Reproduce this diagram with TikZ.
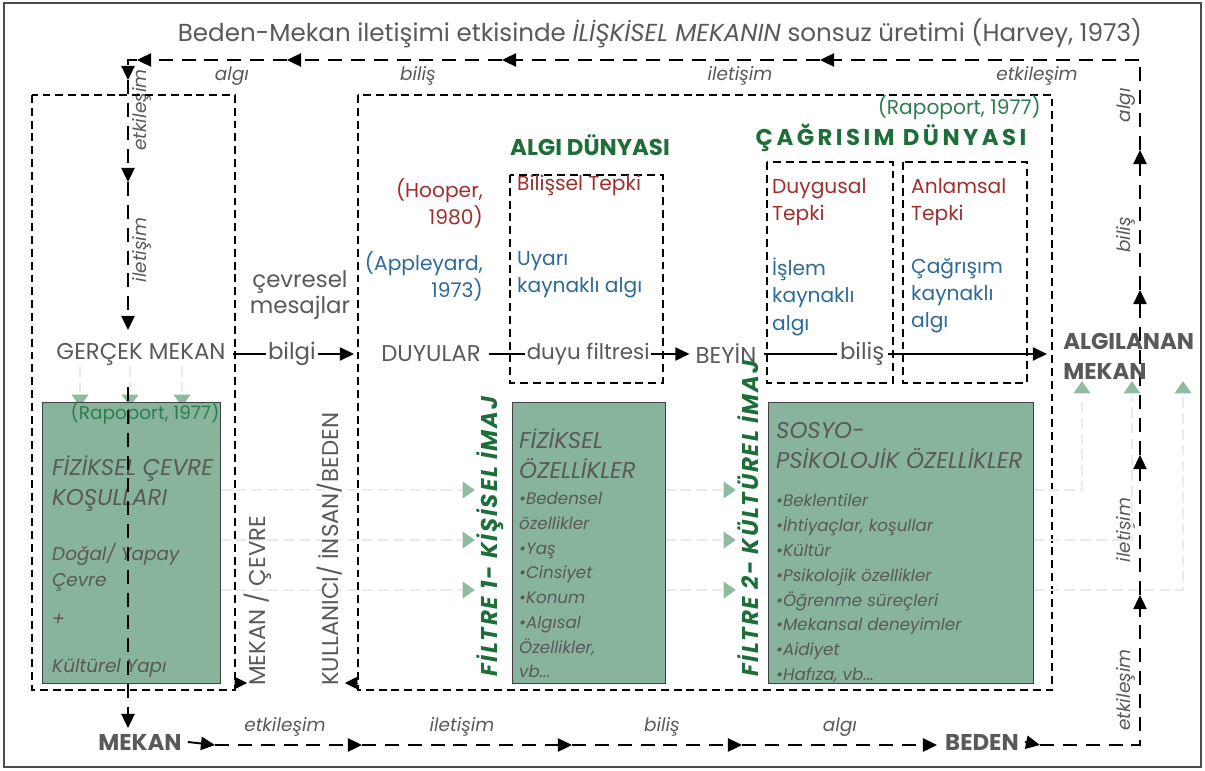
\documentclass[tikz,border=0pt]{standalone}
\usepackage{fontspec}
\setmainfont{Poppins}
\usetikzlibrary{positioning, arrows.meta, calc, shapes.geometric}

\definecolor{txtgray}{HTML}{595959}
\definecolor{dgreen}{HTML}{1E6E3A}
\definecolor{rapgreen}{HTML}{2E7D4E}
\definecolor{dred}{HTML}{9E2F2C}
\definecolor{dblue}{HTML}{2D6A98}
\definecolor{boxgreen}{HTML}{88B49B}
\definecolor{trigreen}{HTML}{8FBCA0}
\definecolor{faint}{HTML}{EAEAEA}

\newcommand\fsmall{\fontsize{9.5}{14.1}\selectfont}
\newcommand\fmid{\fontsize{10.5}{15}\selectfont}
\newcommand\fref{\fontsize{11.5}{15.5}\selectfont}
\newcommand\fbig{\fontsize{13}{17}\selectfont}
\newcommand\fflow{\fontsize{13}{14.8}\selectfont}

\tikzset{
  loopline/.style={line width=1.1pt, dash pattern=on 8pt off 5pt},
  looparrow/.style={loopline, -{Triangle[length=8pt,width=7.5pt]}},
  boxline/.style={line width=0.8pt, dash pattern=on 4.5pt off 2.8pt},
  flow/.style={line width=0.8pt, -{Triangle[length=8pt,width=7.5pt]}},
  greenbox/.style={draw=black!75, line width=0.8pt, fill=boxgreen, anchor=north west, inner sep=0pt},
  faintline/.style={faint, line width=0.6pt, dash pattern=on 6pt off 3pt},
  tri/.style={fill=trigreen, draw=none, isosceles triangle, isosceles triangle apex angle=70, inner sep=0pt, minimum width=8pt, minimum height=7pt}
}

\begin{document}
\begin{tikzpicture}[x=0.02cm, y=-0.02cm, every node/.style={text=txtgray, font=\fmid}]
\useasboundingbox (0,0) rectangle (1205,771);
\draw[black!70, line width=1pt] (4,3) rectangle (1201,767);

% title
\node (title) at (660,33) {\fontsize{14}{17}\selectfont Beden-Mekan iletişimi etkisinde \textit{İLİŞKİSEL MEKANIN} sonsuz üretimi (Harvey, 1973)};

% outer loop
\coordinate (tr) at (1140,60);
\coordinate (tl) at (128,60);
\coordinate (br) at (1140,745);
\coordinate (t1) at (820,60);
\coordinate (t2) at (502,60);
\coordinate (t3) at (287,60);
\coordinate (t4) at (137,60);
\coordinate (l1) at (128,80);
\coordinate (l2) at (128,182);
\coordinate (l3) at (128,330);
\coordinate (l4) at (128,387);
\coordinate (l5) at (128,728);
\coordinate (b0) at (215,745);
\coordinate (b1) at (362,745);
\coordinate (b2) at (572,745);
\coordinate (b3) at (742,745);
\coordinate (b4) at (937,745);
\coordinate (b5) at (1040,745);
\coordinate (r1) at (1140,595);
\coordinate (r2) at (1140,455);
\coordinate (r3) at (1140,290);
\coordinate (r4) at (1140,150);

\node[font=\fbig\bfseries] (mekan) at (140,742) {MEKAN};
\node[font=\fbig\bfseries] (beden) at (982,742) {BEDEN};

\draw[looparrow] (r4) -- (tr) -- (t1);
\draw[looparrow] (t1) -- (t2);
\draw[looparrow] (t2) -- (t3);
\draw[looparrow] (t3) -- (t4);
\draw[looparrow] (t4) -- (tl) -- (l1);
\draw[looparrow] (l1) -- (l2);
\draw[looparrow] (l2) -- (l3);
\draw[looparrow] (l4) -- (l5);
\draw[looparrow] (mekan.east) -- (b0);
\draw[looparrow] (b0) -- (b1);
\draw[looparrow] (b1) -- (b2);
\draw[looparrow] (b2) -- (b3);
\draw[looparrow] (b3) -- (b4);
\draw[looparrow] (beden.east) -- (b5);
\draw[looparrow] (b5) -- (br) -- (r1);
\draw[looparrow] (r1) -- (r2);
\draw[looparrow] (r2) -- (r3);
\draw[looparrow] (r3) -- (r4);

% loop labels
\node[font=\fmid\itshape] at (232,76) {algı};
\node[font=\fmid\itshape] at (418,76) {biliş};
\node[font=\fmid\itshape] at (740,76) {iletişim};
\node[font=\fmid\itshape] at (1037,76) {etkileşim};
\node[font=\fmid\itshape] at (285,727) {etkileşim};
\node[font=\fmid\itshape] at (462,727) {iletişim};
\node[font=\fmid\itshape] at (662,727) {biliş};
\node[font=\fmid\itshape] at (840,727) {algı};
\node[font=\fmid\itshape, rotate=90] at (142,110) {etkileşim};
\node[font=\fmid\itshape, rotate=90] at (142,250) {iletişim};
\node[font=\fmid\itshape, rotate=90] at (1126,105) {algı};
\node[font=\fmid\itshape, rotate=90] at (1126,235) {biliş};
\node[font=\fmid\itshape, rotate=90] at (1126,530) {iletişim};
\node[font=\fmid\itshape, rotate=90] at (1126,690) {etkileşim};

% dashed frames
\draw[boxline] (32,95) rectangle (235,690);
\draw[boxline] (358,95) rectangle (1052,690);
\draw[boxline] (510,175) rectangle (663,383);
\draw[boxline] (767,162) rectangle (893,383);
\draw[boxline] (903,162) rectangle (1027,383);
\coordinate (mc) at (247,683);
\coordinate (kb) at (345,683);
\draw[-{Triangle[length=7pt,width=7pt]}] (235,683) -- (mc);
\draw[-{Triangle[length=7pt,width=7pt]}] (358,683) -- (kb);

% faint guide lines and small triangles
\foreach \x in {80,130,182} {
  \draw[faintline] (\x,366) -- (\x,392);
  \node[tri, shape border rotate=270] at (\x,399) {};
}
\foreach \y/\x in {490/1082,540/1132,590/1183} {
  \draw[faintline] (220,\y) -- (462,\y);
  \draw[faintline] (665,\y) -- (722,\y);
  \draw[faintline] (1033,\y) -- (\x,\y) -- (\x,396);
  \node[tri] at (467,\y) {};
  \node[tri] at (728,\y) {};
  \node[tri, shape border rotate=90] at (\x,389) {};
}

% green boxes
\node[greenbox, minimum width=178*0.02cm, minimum height=281*0.02cm] (cevre) at (42,402) {};
\node[greenbox, minimum width=153*0.02cm, minimum height=281*0.02cm] (fizik) at (512,402) {};
\node[greenbox, minimum width=265*0.02cm, minimum height=281*0.02cm] (sosyo) at (768,402) {};

\node[font=\fbig\itshape, anchor=north west, align=left] (cevretxt) at (46,450) {FİZİKSEL ÇEVRE\\KOŞULLARI};
\node[font=\fmid\itshape, anchor=north west, align=left] at (46,537) {Doğal/ Yapay\\Çevre};
\node[font=\fmid\itshape, anchor=west] at (46,620) {+};
\node[font=\fmid\itshape, anchor=west] at (46,668) {Kültürel Yapı};
\node[text=rapgreen] at (145,413) {(Rapoport, 1977)};

\draw[loopline] (l4) -- (128,690);

% main flow
\node[font=\fflow] (gercek) at (141,354) {GERÇEK MEKAN};
\node[font=\fflow] (duyular) at (431,354) {DUYULAR};
\node[font=\fflow] (beyin) at (726,354) {BEYİN};
\node[font=\fbig\bfseries, anchor=west, align=left, inner sep=0pt] (algilanan) at (1063,356) {ALGILANAN\\MEKAN};
\coordinate (bilisend) at (1047,354);
\draw[flow, shorten <=1pt, shorten >=12pt] (gercek) -- (duyular) node[pos=0.42, fill=white, inner sep=1pt, font=\fflow] {bilgi};
\draw[flow, shorten <=1pt] (duyular) -- (beyin) node[midway, fill=white, inner sep=1pt, font=\fontsize{12.2}{14}\selectfont] {duyu filtresi};
\draw[flow, shorten <=1pt] (beyin) -- (bilisend) node[pos=0.35, fill=white, inner sep=2pt, font=\fflow] {biliş};

\node[align=center, font=\fflow] at (300,295) {çevresel\\mesajlar};
\node[rotate=90, anchor=west, font=\fflow] at (258,692) {MEKAN / ÇEVRE};
\node[rotate=90, anchor=west, font=\fflow] at (330,692) {KULLANICI/ İNSAN/BEDEN};

% algi dunyasi
\node[font=\fbig\bfseries, text=dgreen] at (590,145) {ALGI DÜNYASI};
\node[font=\fbig\bfseries, text=dgreen] at (891,138) {\addfontfeature{LetterSpace=15}ÇAĞRISIM DÜNYASI};
\node[text=rapgreen, font=\fref, anchor=east] at (1047,108) {(Rapoport, 1977)};
\node[text=dred, font=\fref, anchor=north east, align=right] at (489,172) {(Hooper,\\1980)};
\node[text=dblue, font=\fref, anchor=north east, align=right] at (489,245) {(Appleyard,\\1973)};
\node[text=dred, font=\fref, anchor=west] at (511,185) {Bilişsel Tepki};
\node[text=dblue, font=\fref, anchor=north west, align=left] at (511,245) {Uyarı\\kaynaklı algı};
\node[text=dred, font=\fref, anchor=north west, align=left] at (766,172) {Duygusal\\Tepki};
\node[text=dblue, font=\fref, anchor=north west, align=left] at (766,252) {İşlem\\kaynaklı\\algı};
\node[text=dred, font=\fref, anchor=north west, align=left] at (905,172) {Anlamsal\\Tepki};
\node[text=dblue, font=\fref, anchor=north west, align=left] at (905,252) {Çağrışım\\kaynaklı\\algı};

% filters
\node[font=\fbig\bfseries\itshape, text=dgreen, rotate=90, anchor=west] at (490,683) {\addfontfeature{LetterSpace=8}FİLTRE 1- KİŞİSEL İMAJ};
\node[font=\fbig\bfseries\itshape, text=dgreen, rotate=90, anchor=west] at (748,683) {\addfontfeature{LetterSpace=8}FİLTRE 2- KÜLTÜREL İMAJ};

\node[font=\fbig\itshape, anchor=north west, align=left] at (513,423) {FİZİKSEL\\ÖZELLİKLER};
\node[font=\fsmall\itshape, anchor=north west, align=left] at (513,486) {\textbullet Bedensel\\ özellikler\\\textbullet Yaş\\\textbullet Cinsiyet\\\textbullet Konum\\\textbullet Algısal\\Özellikler,\\vb...};
\node[font=\fbig\itshape, anchor=north west, align=left] at (770,416) {SOSYO-\\PSİKOLOJİK ÖZELLİKLER};
\node[font=\fsmall\itshape, anchor=north west, align=left] at (770,488) {\textbullet Beklentiler\\\textbullet İhtiyaçlar, koşullar\\\textbullet Kültür\\\textbullet Psikolojik özellikler\\\textbullet Öğrenme süreçleri\\\textbullet Mekansal deneyimler\\\textbullet Aidiyet\\\textbullet Hafıza, vb...};
\end{tikzpicture}
\end{document}
